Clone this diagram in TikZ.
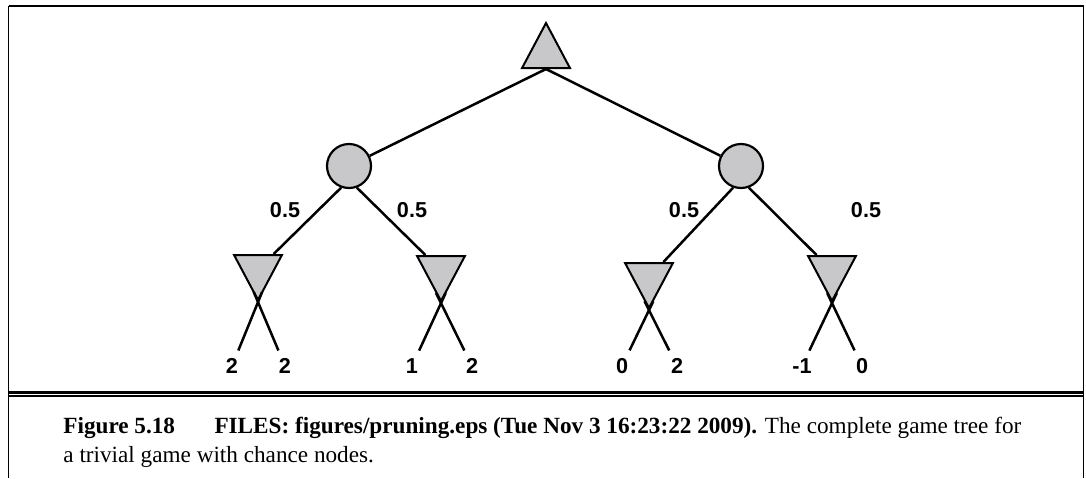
\documentclass[tikz,border=0pt]{standalone}
\usepackage{fontspec}
\setsansfont{Liberation Sans}
\newfontfamily\capfont{Liberation Serif}
\usetikzlibrary{shapes.geometric, calc}
\definecolor{nodeGray}{RGB}{200,200,202}

\begin{document}
\begin{tikzpicture}[x=0.5pt, y=-0.5pt,
  maxnode/.style={isosceles triangle, isosceles triangle apex angle=56,
    shape border rotate=90, draw, line width=1pt, fill=nodeGray,
    inner sep=0pt, minimum width=22.5pt, minimum height=22.5pt},
  minnode/.style={maxnode, shape border rotate=270},
  chance/.style={circle, draw, line width=1.1pt, fill=nodeGray,
    inner sep=0pt, minimum size=22pt},
  edge/.style={line width=1.25pt},
  lbl/.style={font=\sffamily\bfseries\fontsize{10.8}{13}\selectfont},
  prob/.style={lbl, inner sep=0pt},
  leaf/.style={lbl, inner sep=1pt, outer sep=3pt},
  caption/.style={anchor=base west, inner sep=0pt,
    font=\capfont\fontsize{11.6}{14.5}\selectfont}]
  \useasboundingbox (0,0) rectangle (1086,478);

  % frame and rule
  \draw[line width=1pt] (8.5,6) -- (1083.5,6);
  \draw[line width=0.75pt] (8.5,5.5) -- (8.5,478);
  \draw[line width=0.75pt] (1083.5,5.5) -- (1083.5,478);
  \draw[line width=1.5pt] (8.5,392.5) -- (1083.5,392.5);
  \draw[line width=1pt] (8.5,396) -- (1083.5,396);

  % tree nodes
  \node[maxnode, anchor=south] (root) at (546,69) {};
  \node[chance] (c1) at (349,166) {};
  \node[chance] (c2) at (741,166) {};
  \node[minnode, anchor=north] (m1) at (258,254) {};
  \node[minnode, anchor=north] (m2) at (441,255) {};
  \node[minnode, anchor=north] (m3) at (649,262) {};
  \node[minnode, anchor=north] (m4) at (832,255) {};

  \draw[edge] (root.south) -- (c1);
  \draw[edge] (root.south) -- (c2);
  \draw[edge] (c1.250) -- (m1);
  \draw[edge] (c1.290) -- (m2);
  \draw[edge] (c2.250) -- (m3);
  \draw[edge] (c2.290) -- (m4);

  % chance probabilities
  \node[prob] (p1) at (285,210) {0.5};
  \node[prob] (p2) at (412,210) {0.5};
  \node[prob] (p3) at (684,210) {0.5};
  \node[prob] (p4) at (866,210) {0.5};

  % leaf values
  \node[leaf] (l11) at (232,366) {2};
  \node[leaf] (l12) at (285,366) {2};
  \node[leaf] (l21) at (412,366) {1};
  \node[leaf] (l22) at (472,366) {2};
  \node[leaf] (l31) at (622,366) {0};
  \node[leaf] (l32) at (677,366) {2};
  \node[leaf] (l41) at (802,366) {-1};
  \node[leaf] (l42) at (862,366) {0};

  \foreach \m/\a in {m1/l11, m1/l12, m2/l21, m2/l22,
                     m3/l31, m3/l32, m4/l41, m4/l42} {
    \draw[edge] ($(\a)!1.16!(\m.apex)$) -- (\a);
  }

  % caption
  \node[caption] (cap1) at (63,433) {\textbf{Figure 5.18}\hspace{1.7em}\textbf{FILES: figures/pruning.eps (Tue Nov 3 16:23:22 2009).} The complete game tree for};
  \node[caption] (cap2) at (63,462) {a trivial game with chance nodes.};
\end{tikzpicture}
\end{document}
